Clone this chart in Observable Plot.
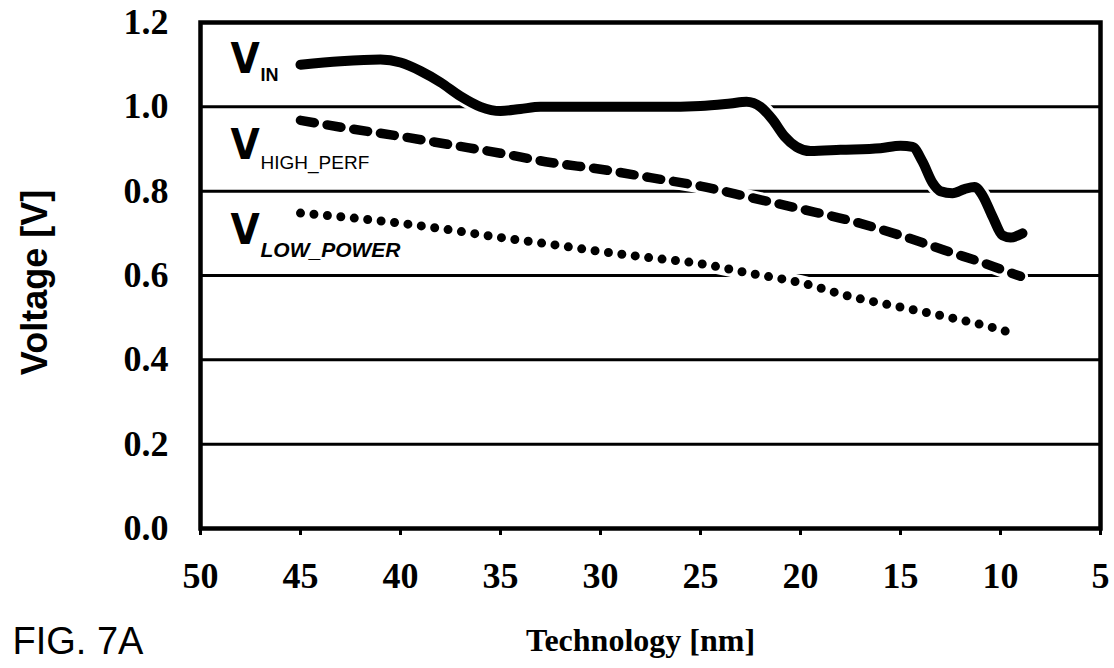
<!DOCTYPE html>
<html>
<head>
<meta charset="utf-8">
<script src="https://cdn.jsdelivr.net/npm/d3@7"></script>
<script src="https://cdn.jsdelivr.net/npm/@observablehq/plot@0.6"></script>
<style>
  html, body { margin: 0; padding: 0; background: #fff; }
  #chart svg { display: block; }
</style>
</head>
<body>
<div id="chart"></div>
<script>
// ---- data ----
const xTicks = [50, 45, 40, 35, 30, 25, 20, 15, 10, 5];
const yTicks = [0, 0.2, 0.4, 0.6, 0.8, 1.0, 1.2];
const gridValues = [0.2, 0.4, 0.6, 0.8, 1.0];

// V_IN (solid)
const vinNm = [45, 43, 41, 40, 39, 38, 37, 36, 35, 34, 33, 30, 27, 25, 23.5, 22.7, 22, 21.4, 20.8, 20.2, 19.5, 18, 16, 15, 14.4, 13.9, 13.4, 13.0, 12.4, 11.8, 11.3, 10.9, 10.4, 9.9, 9.5, 8.9];
const vinV  = [1.10, 1.108, 1.112, 1.105, 1.085, 1.058, 1.025, 1.0, 0.99, 0.995, 1.0, 1.0, 1.0, 1.002, 1.008, 1.012, 1.0, 0.97, 0.93, 0.905, 0.895, 0.898, 0.902, 0.908, 0.905, 0.87, 0.82, 0.80, 0.795, 0.805, 0.81, 0.79, 0.74, 0.695, 0.69, 0.70];

// V_HIGH_PERF (dashed)
const hpNm = [45, 42.5, 40, 37.5, 35, 32.5, 30, 27.5, 25, 22.5, 20, 17.5, 15, 12.5, 11, 10, 9];
const hpV  = [0.968, 0.948, 0.93, 0.91, 0.89, 0.868, 0.852, 0.832, 0.812, 0.785, 0.758, 0.73, 0.695, 0.655, 0.632, 0.615, 0.598];

// V_LOW_POWER (dotted)
const lpNm = [45, 42.5, 40, 37.5, 35, 32.5, 30, 27.5, 25, 22.5, 20, 17.5, 15, 12.5, 10.5, 9.2];
const lpV  = [0.748, 0.737, 0.724, 0.708, 0.69, 0.674, 0.657, 0.642, 0.628, 0.605, 0.583, 0.55, 0.525, 0.50, 0.478, 0.46];

const toRows = (nm, v) => nm.map((d, i) => ({nm: d, v: v[i]}));
const vin = toRows(vinNm, vinV);
const hp = toRows(hpNm, hpV);
const lp = toRows(lpNm, lpV);

const serif = "'Liberation Serif', 'DejaVu Serif', serif";
const sans = "'Liberation Sans', Arial, sans-serif";
const condensed = "'DejaVu Sans Condensed', 'DejaVu Sans', sans-serif";

const chart = Plot.plot({
  width: 1114,
  height: 668,
  marginLeft: 200,
  marginRight: 14,
  marginTop: 22,
  marginBottom: 140,
  style: {background: "#fff", color: "#000"},
  x: {domain: [50, 5]},
  y: {domain: [0, 1.2]},
  marks: [
    Plot.ruleY(gridValues, {stroke: "#000", strokeWidth: 3}),
    // white halos
    Plot.line(lp, {x: "nm", y: "v", stroke: "#fff", strokeWidth: 15, curve: "monotone-x"}),
    Plot.line(hp, {x: "nm", y: "v", stroke: "#fff", strokeWidth: 15, curve: "monotone-x"}),
    Plot.line(vin, {x: "nm", y: "v", stroke: "#fff", strokeWidth: 16, curve: "monotone-x", strokeLinecap: "round"}),
    // series
    Plot.line(lp, {x: "nm", y: "v", stroke: "#000", strokeWidth: 9, strokeDasharray: "0 13.5", strokeLinecap: "round", curve: "monotone-x"}),
    Plot.line(hp, {x: "nm", y: "v", stroke: "#000", strokeWidth: 9.5, strokeDasharray: "14 13", strokeLinecap: "round", curve: "monotone-x"}),
    Plot.line(vin, {x: "nm", y: "v", stroke: "#000", strokeWidth: 10, strokeLinecap: "round", strokeLinejoin: "round", curve: "monotone-x"}),
    Plot.frame({stroke: "#000", strokeWidth: 4.5}),
    Plot.axisX({ticks: xTicks, tickSize: 7, tickPadding: 27, strokeWidth: 3, fontSize: 36, fontWeight: "bold", fontFamily: serif, label: null}),
    Plot.axisY({ticks: yTicks, tickFormat: d3.format(".1f"), tickSize: 0, tickPadding: 32, fontSize: 36, fontWeight: "bold", fontFamily: serif, label: null}),
    // series labels
    Plot.text(["V"], {x: 48.5, y: 1.112, textAnchor: "start", lineAnchor: "middle", fontSize: 42, fontWeight: "bold", fontFamily: condensed}),
    Plot.text(["IN"], {x: 47.0, y: 1.076, textAnchor: "start", lineAnchor: "middle", fontSize: 18, fontWeight: "bold", fontFamily: sans}),
    Plot.text(["V"], {x: 48.5, y: 0.908, textAnchor: "start", lineAnchor: "middle", fontSize: 42, fontWeight: "bold", fontFamily: condensed}),
    Plot.text(["HIGH_PERF"], {x: 47.0, y: 0.866, textAnchor: "start", lineAnchor: "middle", fontSize: 19, fontFamily: sans}),
    Plot.text(["V"], {x: 48.5, y: 0.707, textAnchor: "start", lineAnchor: "middle", fontSize: 42, fontWeight: "bold", fontFamily: condensed}),
    Plot.text(["LOW_POWER"], {x: 47.0, y: 0.66, textAnchor: "start", lineAnchor: "middle", fontSize: 21, fontWeight: "bold", fontStyle: "italic", fontFamily: sans}),
    // axis titles
    Plot.text(["Voltage [V]"], {frameAnchor: "left", dx: -165, dy: 7, rotate: -90, textAnchor: "middle", lineAnchor: "middle", fontSize: 36, fontWeight: "bold", fontFamily: sans}),
    Plot.text(["Technology [nm]"], {frameAnchor: "bottom", dx: -10, dy: 112, textAnchor: "middle", lineAnchor: "middle", fontSize: 32, fontWeight: "bold", fontFamily: serif}),
    Plot.text(["FIG. 7A"], {frameAnchor: "bottom-left", dx: -188, dy: 113, textAnchor: "start", lineAnchor: "middle", fontSize: 38, fontFamily: sans})
  ]
});
document.getElementById("chart").appendChild(chart);
</script>
</body>
</html>
